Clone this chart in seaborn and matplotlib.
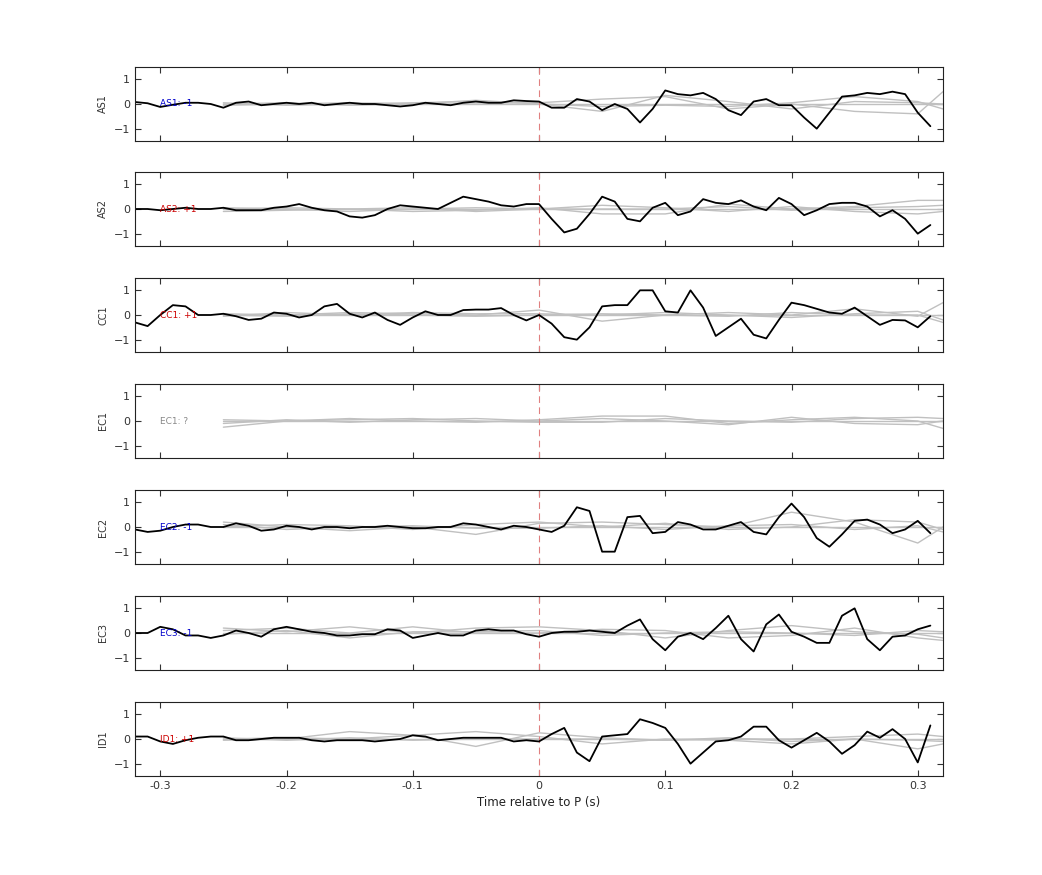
import numpy as np
import pandas as pd
import matplotlib
matplotlib.use("Agg")
import matplotlib.pyplot as plt
import seaborn as sns

sns.set_style("ticks")
plt.rcParams['font.family'] = ['DejaVu Sans']

stations = ["AS1", "AS2", "CC1", "EC1", "EC2", "EC3", "ID1"]
labels = ["AS1: -1", "AS2: +1", "CC1: +1", "EC1: ?", "EC2: -1", "EC3: -1", "ID1: +1"]
label_colors = ["#0000cc", "#cc0000", "#cc0000", "#888888", "#0000cc", "#0000cc", "#cc0000"]

time = [round(-0.32 + 0.01 * k, 2) for k in range(64)]

AS1 = [0.08, 0.03, -0.12, -0.03, 0.05, 0.05, 0.0, -0.15, 0.05, 0.1, -0.05, 0.0, 0.05, 0.0, 0.05,
       -0.05, 0.0, 0.05, 0.0, 0.0, -0.05, -0.1, -0.05, 0.05, 0.0, -0.05, 0.05, 0.1, 0.05, 0.05, 0.15, 0.12,
       0.1, -0.15, -0.15, 0.2, 0.1, -0.25, 0.0, -0.2, -0.75, -0.2, 0.55, 0.4, 0.35, 0.45, 0.2, -0.25,
       -0.45, 0.1, 0.2, -0.05, -0.05, -0.55, -1.0, -0.35, 0.3, 0.35, 0.45, 0.4, 0.5, 0.4, -0.35, -0.9]
AS2 = [0.0, 0.0, -0.05, 0.0, 0.05, 0.0, 0.0, 0.05, -0.05, -0.05, -0.05, 0.05,
       0.1, 0.2, 0.05, -0.05, -0.1, -0.3, -0.35, -0.25, 0.0, 0.15, 0.1, 0.05, 0.0, 0.25, 0.5, 0.4, 0.3,
       0.15, 0.1, 0.2,
       0.2, -0.4, -0.95, -0.8, -0.2, 0.5, 0.3, -0.4, -0.5, 0.05, 0.25, -0.25, -0.1, 0.4, 0.25, 0.2,
       0.35, 0.1, -0.05, 0.45, 0.2, -0.25, -0.05, 0.2, 0.25, 0.25, 0.1, -0.3, -0.05, -0.4, -1.0, -0.65]
CC1 = [-0.3, -0.45, 0.0, 0.4, 0.35, 0.0, 0.0, 0.05, -0.05, -0.2, -0.15, 0.1, 0.05, -0.1, 0.0, 0.35,
       0.45, 0.05, -0.1, 0.1, -0.2, -0.4, -0.1, 0.15, 0.0, 0.0, 0.2, 0.22, 0.22, 0.28, 0.0, -0.22,
       0.0, -0.35, -0.9, -1.0, -0.5, 0.35, 0.4, 0.4, 1.0, 1.0, 0.15, 0.1, 1.0, 0.3, -0.85, -0.5,
       -0.15, -0.8, -0.95, -0.2, 0.5, 0.4, 0.25, 0.1, 0.05, 0.3, -0.05, -0.4, -0.2, -0.22, -0.5, -0.05]
EC1 = None
EC2 = [-0.1, -0.2, -0.15, 0.0, 0.1, 0.1, 0.0, 0.0, 0.15, 0.05, -0.15, -0.1, 0.05, 0.0, -0.1, 0.0,
       0.0, -0.05, 0.0, 0.0, 0.05, 0.0, -0.05, -0.05, 0.0, 0.0, 0.15, 0.1, 0.0, -0.1, 0.05, 0.0,
       -0.1, -0.2, 0.05, 0.8, 0.65, -1.0, -1.0, 0.4, 0.45, -0.25, -0.2, 0.2, 0.1, -0.1, -0.1, 0.05,
       0.2, -0.2, -0.3, 0.4, 0.95, 0.4, -0.45, -0.8, -0.3, 0.25, 0.3, 0.1, -0.25, -0.1, 0.25, -0.25]
EC3 = [0.0, 0.0, 0.25, 0.15, -0.1, -0.1, -0.2, -0.1, 0.1, 0.0, -0.15, 0.15, 0.25, 0.15, 0.05, 0.0,
       -0.1, -0.1, -0.05, -0.05, 0.15, 0.1, -0.2, -0.1, 0.0, -0.1, -0.1, 0.1, 0.15, 0.1, 0.1, -0.05,
       -0.15, 0.0, 0.05, 0.05, 0.1, 0.05, 0.0, 0.3, 0.55, -0.25, -0.7, -0.15, 0.0, -0.25, 0.2, 0.7,
       -0.25, -0.75, 0.35, 0.75, 0.05, -0.15, -0.4, -0.4, 0.7, 1.0, -0.25, -0.7, -0.15, -0.1, 0.15, 0.3]
ID1 = [0.1, 0.1, -0.1, -0.2, -0.05, 0.05, 0.1, 0.1, -0.05, -0.05, 0.0, 0.05, 0.05, 0.05, -0.05, -0.1,
       -0.05, -0.05, -0.05, -0.1, -0.05, 0.0, 0.15, 0.1, -0.05, 0.0, 0.05, 0.05, 0.05, 0.05, -0.1, -0.05,
       -0.1, 0.2, 0.45, -0.55, -0.9, 0.1, 0.15, 0.2, 0.8, 0.65, 0.45, -0.2, -1.0, -0.55, -0.1, -0.05,
       0.1, 0.5, 0.5, -0.05, -0.35, -0.05, 0.25, -0.1, -0.6, -0.25, 0.3, 0.05, 0.4, 0.0, -0.95, 0.55]
black_series = [AS1, AS2, CC1, EC1, EC2, EC3, ID1]

# gray reference traces, sampled every 0.05 s
gray_time = [-0.25, -0.2, -0.15, -0.1, -0.05, 0.0, 0.05, 0.1, 0.15, 0.2, 0.25, 0.3, 0.32]
gray_AS1 = [[0.0, 0.0, 0.0, 0.0, 0.0, 0.0, 0.0, 0.0, 0.0, 0.0, 0.0, 0.0, 0.0],
            [-0.05, 0.0, 0.05, 0.0, 0.15, 0.0, -0.3, 0.35, 0.1, -0.2, 0.1, 0.05, 0.0],
            [0.05, -0.05, 0.0, 0.05, 0.1, 0.05, 0.2, 0.3, -0.2, 0.0, -0.3, -0.4, 0.5],
            [0.0, 0.05, -0.05, 0.0, 0.0, 0.0, -0.1, -0.05, -0.1, 0.05, 0.3, 0.1, -0.2]]
gray_AS2 = [[0.0, 0.0, 0.0, 0.0, 0.0, 0.0, 0.0, 0.0, 0.0, 0.0, 0.0, 0.0, 0.0],
            [-0.1, -0.05, 0.0, -0.1, -0.05, 0.05, -0.2, -0.2, 0.2, 0.0, 0.1, 0.35, 0.35],
            [0.05, 0.0, -0.1, 0.0, 0.05, 0.0, 0.15, 0.05, -0.1, 0.1, -0.1, -0.2, -0.1],
            [0.0, 0.05, 0.0, 0.05, -0.1, 0.0, 0.0, 0.0, 0.1, -0.05, 0.05, 0.1, 0.15]]
gray_CC1 = [[0.0, 0.0, 0.0, 0.0, 0.0, 0.0, 0.0, 0.0, 0.0, 0.0, 0.0, 0.0, 0.0],
            [0.05, 0.0, 0.1, 0.05, 0.0, 0.2, -0.25, 0.0, 0.1, 0.0, 0.25, -0.05, 0.5],
            [-0.05, 0.1, 0.0, 0.1, 0.05, 0.05, 0.0, 0.1, 0.0, -0.1, 0.05, 0.15, -0.2],
            [0.0, -0.05, 0.05, 0.0, -0.05, 0.0, 0.05, 0.0, -0.05, 0.1, 0.0, 0.0, -0.3]]
gray_EC1 = [[0.0, 0.0, 0.0, 0.0, 0.0, 0.0, 0.0, 0.0, 0.0, 0.0, 0.0, 0.0, 0.0],
            [-0.25, 0.0, 0.1, 0.0, -0.05, 0.05, 0.2, 0.2, -0.1, 0.05, 0.15, 0.0, -0.3],
            [-0.1, 0.05, -0.05, 0.05, 0.1, 0.0, 0.1, 0.0, -0.15, 0.15, -0.1, -0.15, 0.0],
            [0.05, 0.0, 0.05, 0.1, 0.0, -0.05, -0.05, 0.1, 0.0, -0.05, 0.1, 0.15, 0.1]]
gray_EC2 = [[0.0, 0.0, 0.0, 0.0, 0.0, 0.0, 0.0, 0.0, 0.0, 0.0, 0.0, 0.0, 0.0],
            [0.2, 0.0, -0.15, 0.0, -0.3, 0.15, 0.2, 0.1, 0.0, 0.6, 0.2, -0.65, 0.0],
            [0.0, 0.1, 0.05, -0.1, 0.1, 0.2, 0.0, 0.15, -0.1, 0.0, 0.3, 0.2, -0.1],
            [0.1, -0.1, 0.0, 0.05, -0.05, -0.05, 0.05, -0.1, 0.05, 0.1, -0.1, 0.05, -0.2]]
gray_EC3 = [[0.0, 0.0, 0.0, 0.0, 0.0, 0.0, 0.0, 0.0, 0.0, 0.0, 0.0, 0.0, 0.0],
            [0.2, 0.05, 0.25, 0.0, 0.2, 0.25, 0.1, -0.2, 0.1, 0.3, 0.05, -0.05, -0.2],
            [0.1, 0.2, 0.0, 0.25, 0.0, 0.0, 0.15, 0.1, -0.2, -0.1, 0.2, -0.2, -0.3],
            [-0.05, 0.1, -0.2, 0.05, 0.05, 0.1, -0.1, 0.0, 0.05, 0.0, -0.1, 0.1, 0.05]]
gray_ID1 = [[0.0, 0.0, 0.0, 0.0, 0.0, 0.0, 0.0, 0.0, 0.0, 0.0, 0.0, 0.0, 0.0],
            [-0.05, 0.0, 0.3, 0.15, 0.3, 0.1, -0.2, 0.0, -0.05, -0.2, 0.0, -0.4, -0.2],
            [0.0, 0.05, 0.0, 0.15, -0.3, 0.25, 0.05, -0.05, 0.0, 0.0, 0.1, 0.2, 0.1],
            [0.05, -0.05, 0.05, -0.05, 0.0, 0.0, 0.0, -0.05, 0.05, -0.1, 0.0, -0.05, -0.1]]
gray_series = [gray_AS1, gray_AS2, gray_CC1, gray_EC1, gray_EC2, gray_EC3, gray_ID1]

fig = plt.figure(figsize=(10.42, 8.75), dpi=100)
left = 135 / 1042
width = (943 - 135) / 1042
tops = [67, 172, 278, 384, 490, 596, 702]
h = 74

for i, st in enumerate(stations):
    ax = fig.add_axes([left, 1 - (tops[i] + h) / 875, width, h / 875])
    for g in gray_series[i]:
        sns.lineplot(x=gray_time, y=g, ax=ax, color="#c0c0c0", lw=1.0, estimator=None)
    ax.axvline(0, color="#e08080", lw=0.8, ls=(0, (6, 4)))
    if black_series[i] is not None:
        sns.lineplot(x=time, y=black_series[i], ax=ax, color="black", lw=1.3, estimator=None)
    ax.text(-0.3, 0, labels[i], color=label_colors[i], fontsize=6.5, va="center", ha="left")
    ax.set_xlim(-0.32, 0.32)
    ax.set_ylim(-1.5, 1.5)
    ax.set_yticks([-1, 0, 1])
    ax.set_xticks([-0.3, -0.2, -0.1, 0, 0.1, 0.2, 0.3])
    ax.tick_params(direction="in", top=True, right=True, labelsize=8, length=4, colors="#333333")
    ax.set_ylabel(st, fontsize=7, color="#333333")
    for s in ax.spines.values():
        s.set_color("#222222")
    if i < len(stations) - 1:
        ax.set_xticklabels([])
    else:
        ax.set_xticklabels(["-0.3", "-0.2", "-0.1", "0", "0.1", "0.2", "0.3"])
        ax.set_xlabel("Time relative to P (s)", fontsize=8.5, color="#222222")

fig.savefig("out.png", dpi=100)
